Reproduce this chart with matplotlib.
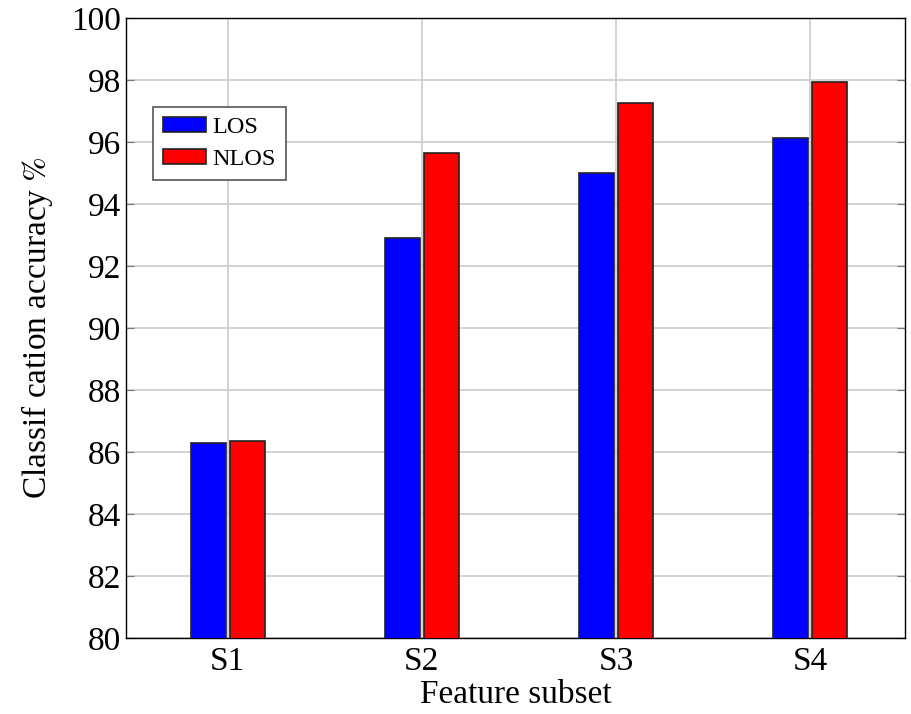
import numpy as np
import matplotlib.pyplot as plt

# values
subsets = ['S1', 'S2', 'S3', 'S4']
los = [86.3, 92.9, 95.0, 96.13]
nlos = [86.35, 95.65, 97.27, 97.95]

plt.rcParams['font.family'] = ['Liberation Serif', 'DejaVu Serif']
plt.rcParams['mathtext.fontset'] = 'stix'

fig = plt.figure(figsize=(9.11, 7.14), dpi=100)
ax = fig.add_axes([126 / 911, 1 - 638 / 714, 779 / 911, 620 / 714])

x = np.arange(len(subsets))
w = 0.18
ax.bar(x - 0.1, los, width=w, bottom=0, color='blue', edgecolor='#222222',
       linewidth=1.2, label='LOS', zorder=3)
ax.bar(x + 0.1, nlos, width=w, bottom=0, color='red', edgecolor='#222222',
       linewidth=1.2, label='NLOS', zorder=3)

ax.set_ylim(80, 100)
ax.set_xlim(-0.525, 3.49)
ax.set_yticks(np.arange(80, 101, 2))
ax.set_xticks(x)
ax.set_xticklabels(subsets)
ax.tick_params(axis='both', labelsize=24, direction='in', color='#777777',
               length=6, right=True, top=False)
ax.tick_params(axis='x', length=0, pad=6)
ax.grid(True, color='#cccccc', linewidth=1.2, zorder=0)
ax.set_axisbelow(True)
for s in ax.spines.values():
    s.set_linewidth(1.0)
    s.set_color('black')

ax.set_xlabel('Feature subset', fontsize=24, labelpad=2)
ax.set_ylabel(r'Classif cation accuracy $\mathit{\%}$', fontsize=24, labelpad=12)

leg = ax.legend(loc='upper left', bbox_to_anchor=(27 / 779, 531 / 620),
                fontsize=17.5, fancybox=False, framealpha=1, edgecolor='#555555',
                handlelength=1.8, handleheight=0.6, handletextpad=0.25,
                borderpad=0.4, labelspacing=0.45, borderaxespad=0)
leg.get_frame().set_linewidth(1.2)

fig.savefig('out.png', dpi=100)
